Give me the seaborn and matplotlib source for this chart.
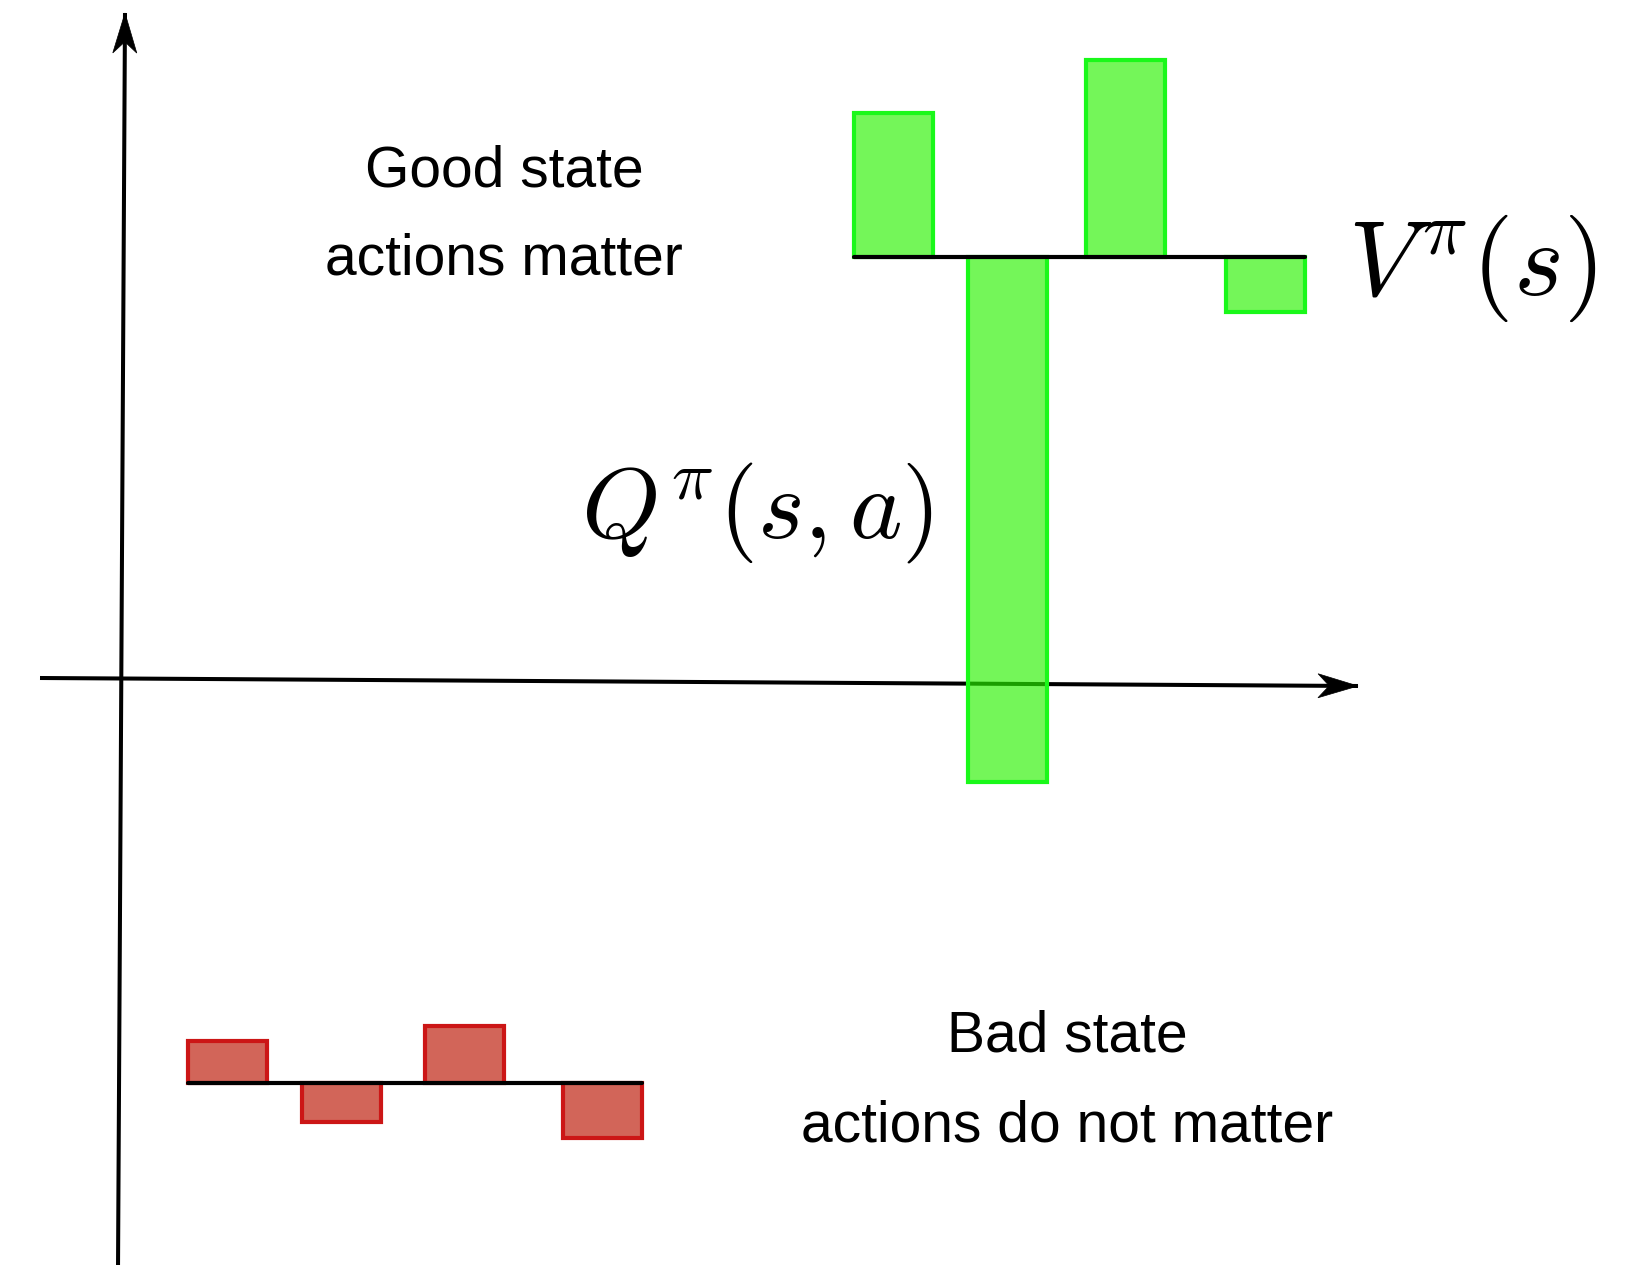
import matplotlib
matplotlib.use("Agg")
import matplotlib.pyplot as plt
from matplotlib.patches import Polygon
import numpy as np
import seaborn as sns
import pandas as pd

# Value of each state and the Q-value of each of its four actions
good_actions = [7.71, 8.85, 10.03, 11.43]
good_q = [5.67, -1.02, 6.20, 3.68]
good_v = 4.23

bad_actions = [1.05, 2.19, 3.42, 4.80]
bad_q = [-3.61, -4.42, -3.46, -4.58]
bad_v = -4.03

sns.set_theme(style="white")
plt.rcParams["font.family"] = ["Liberation Sans", "DejaVu Sans"]
plt.rcParams["mathtext.fontset"] = "cm"
plt.rcParams["text.color"] = "black"

fig = plt.figure(figsize=(16.47, 12.65), dpi=100)
ax = fig.add_axes([0, 0, 1, 1])
ax.set_xlim(-1.22, 15.25)
ax.set_ylim(-5.85, 6.80)
ax.axis("off")

bar_w = 0.79


def axis_arrow(start, tip, head_len=40, head_w=12):
    """Axis line ending in a notched arrowhead (head sizes in pixels)."""
    ax.plot([start[0], tip[0]], [start[1], tip[1]], color="black", lw=2.9,
            solid_capstyle="butt", zorder=1)
    p0 = ax.transData.transform(start)
    p1 = ax.transData.transform(tip)
    d = (p1 - p0) / np.linalg.norm(p1 - p0)
    n = np.array([-d[1], d[0]])
    pts = [p1, p1 - head_len * d + head_w * n, p1 - 0.72 * head_len * d,
           p1 - head_len * d - head_w * n]
    pts = ax.transData.inverted().transform(np.array(pts))
    ax.add_patch(Polygon(pts, closed=True, facecolor="black", edgecolor="black",
                         lw=0.5, zorder=2))


# Coordinate axes (drawn slightly askew, like a hand sketch)
axis_arrow((-0.82, 0.02), (12.36, -0.06))
axis_arrow((-0.04, -5.90), (0.03, 6.67))

# Q-values as bars hanging from V(s)
ax.bar(good_actions, [q - good_v for q in good_q], bottom=good_v, width=bar_w,
       color=(0.16, 0.95, 0.0, 0.65), edgecolor="#1af81a", linewidth=3.0, zorder=3)
ax.bar(bad_actions, [q - bad_v for q in bad_q], bottom=bad_v, width=bar_w,
       color=(0.73, 0.07, 0.0, 0.65), edgecolor="#cc1616", linewidth=3.0, zorder=3)

# V(s) lines across the action bars
good_line = pd.DataFrame({"a": [good_actions[0] - bar_w / 2, good_actions[-1] + bar_w / 2],
                          "v": [good_v, good_v]})
bad_line = pd.DataFrame({"a": [bad_actions[0] - bar_w / 2, bad_actions[-1] + bar_w / 2],
                         "v": [bad_v, bad_v]})
sns.lineplot(data=good_line, x="a", y="v", color="black", lw=3.0, ax=ax, zorder=4)
sns.lineplot(data=bad_line, x="a", y="v", color="black", lw=3.0, ax=ax, zorder=4)

# Annotations
tkw = dict(fontsize=41, color="black", ha="center", va="baseline")
ax.text(3.82, 4.93, "Good state", **tkw)
ax.text(3.82, 4.05, "actions matter", **tkw)
ax.text(9.45, -3.71, "Bad state", **tkw)
ax.text(9.45, -4.61, "actions do not matter", **tkw)

ax.text(4.59, 1.42, r"$Q^{\pi}(s,a)$", fontsize=72, color="black",
        ha="left", va="baseline")
ax.text(12.26, 3.85, r"$V^{\pi}(s)$", fontsize=77, color="black",
        ha="left", va="baseline")

fig.savefig("out.png", dpi=100)
